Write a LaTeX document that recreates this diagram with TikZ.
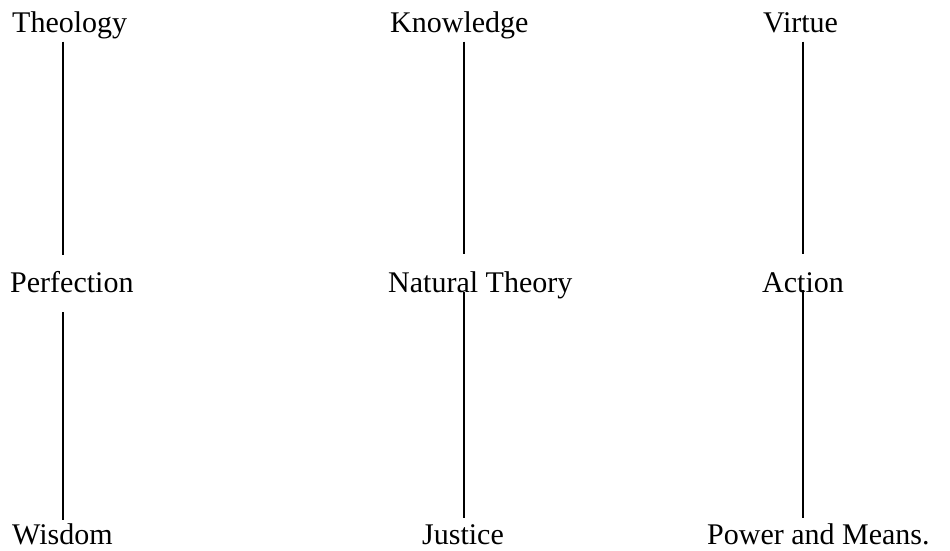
\documentclass[tikz,border=0pt]{standalone}
\usepackage{fontspec}
\setmainfont{Liberation Serif}
\begin{document}
\begin{tikzpicture}[x=1pt,y=1pt,
  term/.style={anchor=base west, inner sep=0pt, text height=22pt, text depth=7pt,
    font=\fontsize{30}{36}\selectfont},
  lastrow/.style={term, text depth=6pt},
  link/.style={line width=2pt}]
\useasboundingbox (0,0) rectangle (950,-551);
\coordinate (c1) at (63,0);
\coordinate (c2) at (464,0);
\coordinate (c3) at (803,0);
% top row
\node[term] (theology)  at (12,-33)  {Theology};
\node[term] (knowledge) at (390,-33) {Knowledge};
\node[term] (virtue)    at (763,-33) {Virtue};
% middle row
\node[term] (perfection) at (10,-292)  {Perfection};
\node[term] (natural)    at (388,-292) {Natural Theory};
\node[term] (action)     at (762,-292) {Action};
% bottom row
\node[lastrow] (wisdom)  at (12,-544)  {Wisdom};
\node[lastrow] (justice) at (422,-544) {Justice};
\node[lastrow] (power)   at (707,-544) {Power and Means.};
% upper connectors
\draw[link] ([yshift=-1.5pt]theology.south -| c1) -- ([yshift=15pt]perfection.north -| c1);
\draw[link] ([yshift=-1.5pt]knowledge.south -| c2) -- ([yshift=16pt]natural.north -| c2);
\draw[link] ([yshift=-1.5pt]virtue.south -| c3) -- ([yshift=16pt]action.north -| c3);
% lower connectors
\draw[link] ([yshift=-13pt]perfection.south -| c1) -- ([yshift=2pt]wisdom.north -| c1);
\draw[link] ([yshift=7pt]natural.south -| c2) -- ([yshift=4pt]justice.north -| c2);
\draw[link] ([yshift=9pt]action.south -| c3) -- ([yshift=4pt]power.north -| c3);
\end{tikzpicture}
\end{document}
